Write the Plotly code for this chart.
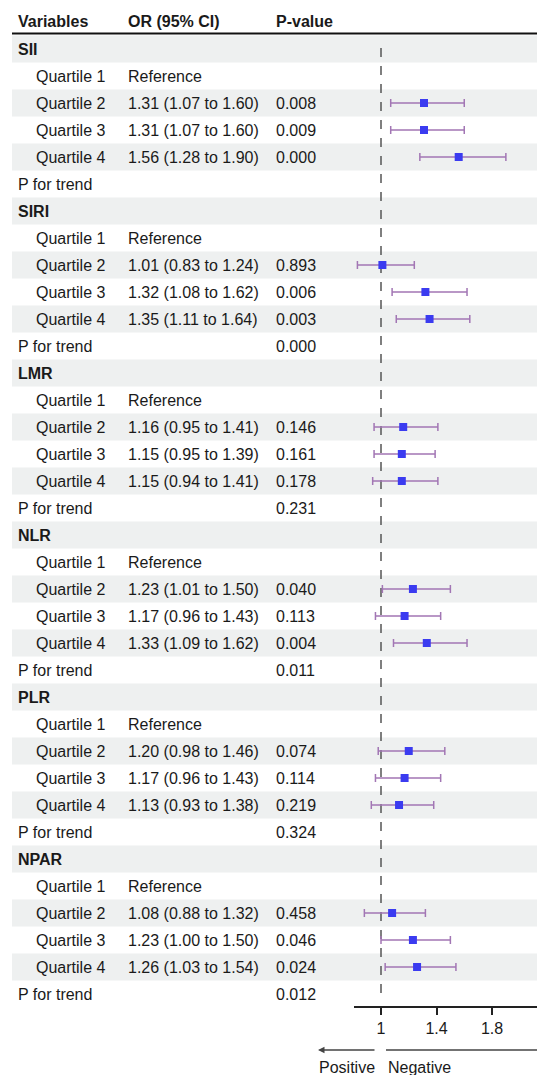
import plotly.graph_objects as go

# ---------------- data ----------------
groups = ["SII", "SIRI", "LMR", "NLR", "PLR", "NPAR"]
quartiles = ["Quartile 1", "Quartile 2", "Quartile 3", "Quartile 4"]

or_vals = {
    "SII":  [1.31, 1.31, 1.56],
    "SIRI": [1.01, 1.32, 1.35],
    "LMR":  [1.16, 1.15, 1.15],
    "NLR":  [1.23, 1.17, 1.33],
    "PLR":  [1.20, 1.17, 1.13],
    "NPAR": [1.08, 1.23, 1.26],
}
ci_low = {
    "SII":  [1.07, 1.07, 1.28],
    "SIRI": [0.83, 1.08, 1.11],
    "LMR":  [0.95, 0.95, 0.94],
    "NLR":  [1.01, 0.96, 1.09],
    "PLR":  [0.98, 0.96, 0.93],
    "NPAR": [0.88, 1.00, 1.03],
}
ci_high = {
    "SII":  [1.60, 1.60, 1.90],
    "SIRI": [1.24, 1.62, 1.64],
    "LMR":  [1.41, 1.39, 1.41],
    "NLR":  [1.50, 1.43, 1.62],
    "PLR":  [1.46, 1.43, 1.38],
    "NPAR": [1.32, 1.50, 1.54],
}
p_vals = {
    "SII":  ["0.008", "0.009", "0.000"],
    "SIRI": ["0.893", "0.006", "0.003"],
    "LMR":  ["0.146", "0.161", "0.178"],
    "NLR":  ["0.040", "0.113", "0.004"],
    "PLR":  ["0.074", "0.114", "0.219"],
    "NPAR": ["0.458", "0.046", "0.024"],
}
p_trend = {"SII": "", "SIRI": "0.000", "LMR": "0.231", "NLR": "0.011",
           "PLR": "0.324", "NPAR": "0.012"}
x_ticks = [1, 1.4, 1.8]
headers = ["Variables", "OR (95% CI)", "P-value"]

# ---------------- layout constants ----------------
W, H = 537, 1075
ROW0, ROW_H = 49, 27          # pixel centre of first row, row height
X_LEFT = 354                  # pixel left of forest axis
X_ONE = 381                   # pixel of OR = 1
PX_PER_UNIT = 138.75
FONT = "Liberation Sans, Arial, sans-serif"
TXT = "#1a1a1a"
SHADE = "#eef0f0"
CI_COL = "#a276b4"
PT_COL = "#3b3bf0"

x_range = [1 - (X_ONE - X_LEFT) / PX_PER_UNIT, 1 + (W - X_ONE) / PX_PER_UNIT]

def ypx(i):
    return ROW0 + ROW_H * i

fig = go.Figure()
shapes = []
annotations = []

# build rows
rows = []
for g in groups:
    rows.append(("group", g, "", "", None))
    rows.append(("q", quartiles[0], "Reference", "", None))
    for k in range(3):
        txt = f"{or_vals[g][k]:.2f} ({ci_low[g][k]:.2f} to {ci_high[g][k]:.2f})"
        rows.append(("q", quartiles[k + 1], txt, p_vals[g][k], (g, k)))
    rows.append(("trend", "P for trend", "", p_trend[g], None))

# shading
for i in range(len(rows)):
    if i % 2 == 0:
        shapes.append(dict(type="rect", xref="paper", yref="y",
                           x0=12 / W, x1=1, y0=ypx(i) - ROW_H / 2, y1=ypx(i) + ROW_H / 2,
                           fillcolor=SHADE, line=dict(width=0), layer="below"))

# header
for h, xp in zip(headers, [16, 126, 274]):
    annotations.append(dict(text=f"<b>{h}</b>", xref="paper", yref="y", x=xp / W, y=21,
                            xanchor="left", yanchor="middle", showarrow=False,
                            font=dict(family=FONT, size=16, color=TXT)))
shapes.append(dict(type="line", xref="paper", yref="y", x0=12 / W, x1=1, y0=33.5, y1=33.5,
                   line=dict(color="#111111", width=2)))

# row texts
xs, ys, em, ep = [], [], [], []
for i, (kind, lab, ortxt, ptxt, ref) in enumerate(rows):
    y = ypx(i)
    if kind == "group":
        annotations.append(dict(text=f"<b>{lab}</b>", xref="paper", yref="y", x=16 / W, y=y,
                                xanchor="left", yanchor="middle", showarrow=False,
                                font=dict(family=FONT, size=16, color=TXT)))
    else:
        xp = 34 if kind == "q" else 16
        annotations.append(dict(text=lab, xref="paper", yref="y", x=xp / W, y=y,
                                xanchor="left", yanchor="middle", showarrow=False,
                                font=dict(family=FONT, size=16, color=TXT)))
    if ortxt:
        annotations.append(dict(text=ortxt, xref="paper", yref="y", x=126 / W, y=y,
                                xanchor="left", yanchor="middle", showarrow=False,
                                font=dict(family=FONT, size=16, color=TXT)))
    if ptxt:
        annotations.append(dict(text=ptxt, xref="paper", yref="y", x=274 / W, y=y,
                                xanchor="left", yanchor="middle", showarrow=False,
                                font=dict(family=FONT, size=16, color=TXT)))
    if ref is not None:
        g, k = ref
        xs.append(or_vals[g][k]); ys.append(y)
        ep.append(ci_high[g][k] - or_vals[g][k])
        em.append(or_vals[g][k] - ci_low[g][k])

# reference dashed line
shapes.append(dict(type="line", xref="x", yref="y", x0=1, x1=1, y0=48, y1=1000,
                   line=dict(color="#555555", width=1.5, dash="dash"), layer="below"))

fig.add_trace(go.Scatter(
    x=xs, y=ys, mode="markers",
    marker=dict(symbol="square", size=8, color=PT_COL),
    error_x=dict(type="data", symmetric=False, array=ep, arrayminus=em,
                 color=CI_COL, thickness=1.5, width=4),
    hoverinfo="skip", showlegend=False, cliponaxis=False))

# direction arrows
arrow_y = 1050
annotations.append(dict(x=318 / W, y=arrow_y, xref="paper", yref="y",
                        ax=58, ay=0, axref="pixel", ayref="pixel",
                        text="", showarrow=True, arrowhead=2, arrowsize=1,
                        arrowwidth=1.3, arrowcolor="#444444"))
shapes.append(dict(type="line", xref="paper", yref="y", x0=386 / W, x1=1,
                   y0=arrow_y, y1=arrow_y, line=dict(color="#444444", width=1.3)))
annotations.append(dict(text="Positive", xref="paper", yref="y", x=317 / W, y=1067,
                        xanchor="left", yanchor="middle", showarrow=False,
                        font=dict(family=FONT, size=16, color=TXT)))
annotations.append(dict(text="Negative", xref="paper", yref="y", x=386 / W, y=1067,
                        xanchor="left", yanchor="middle", showarrow=False,
                        font=dict(family=FONT, size=16, color=TXT)))

fig.update_layout(
    width=W, height=H, margin=dict(l=0, r=0, t=0, b=0),
    paper_bgcolor="white", plot_bgcolor="rgba(0,0,0,0)",
    shapes=shapes, annotations=annotations,
    xaxis=dict(domain=[X_LEFT / W, 1], range=x_range, anchor="free",
               position=(H - 1007) / H, showgrid=False, zeroline=False,
               showline=True, linecolor="#222222", linewidth=1.5,
               ticks="outside", ticklen=7, tickwidth=1.5, tickcolor="#222222",
               tickvals=x_ticks, ticktext=[str(t) for t in x_ticks],
               tickfont=dict(family=FONT, size=16, color=TXT), fixedrange=True),
    yaxis=dict(domain=[0, 1], range=[H, 0], visible=False, fixedrange=True),
)

fig.write_html("out.html", config={"displayModeBar": False},
               post_script="document.body.style.margin='0';document.body.style.overflow='hidden';")
